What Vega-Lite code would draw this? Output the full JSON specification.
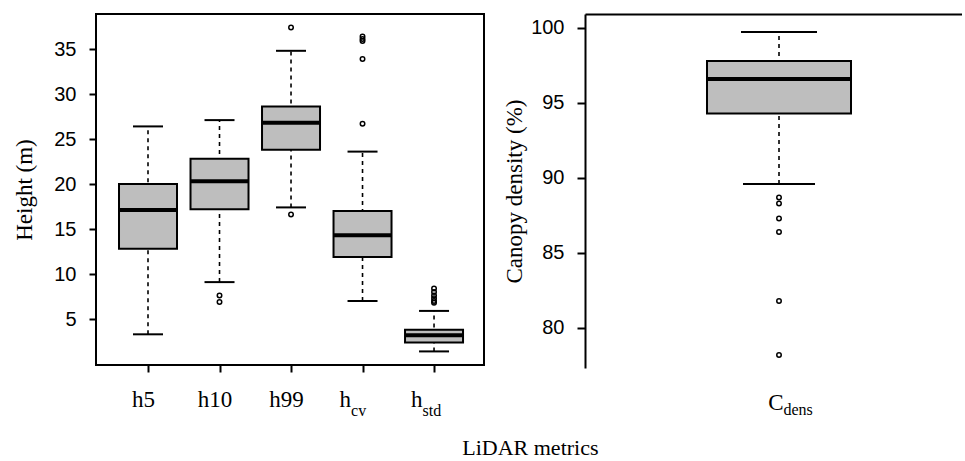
{
  "$schema": "https://vega.github.io/schema/vega-lite/v6.json",
  "padding": {"left": 12, "top": 13, "right": 0, "bottom": 0},
  "background": "white",
  "datasets": {
    "hbox": [
      {"metric": "h5", "lower": 3.3, "q1": 12.8, "median": 17.1, "q3": 20.0, "upper": 26.4},
      {"metric": "h10", "lower": 9.1, "q1": 17.2, "median": 20.3, "q3": 22.8, "upper": 27.1},
      {"metric": "h99", "lower": 17.4, "q1": 23.8, "median": 26.8, "q3": 28.6, "upper": 34.8},
      {"metric": "hcv", "lower": 7.0, "q1": 11.9, "median": 14.3, "q3": 17.0, "upper": 23.6},
      {"metric": "hstd", "lower": 1.4, "q1": 2.4, "median": 3.2, "q3": 3.8, "upper": 5.9}
    ],
    "hout": [
      {"metric": "h10", "value": 7.6},
      {"metric": "h10", "value": 6.9},
      {"metric": "h99", "value": 37.4},
      {"metric": "h99", "value": 16.6},
      {"metric": "hcv", "value": 36.4},
      {"metric": "hcv", "value": 36.1},
      {"metric": "hcv", "value": 35.9},
      {"metric": "hcv", "value": 33.9},
      {"metric": "hcv", "value": 26.7},
      {"metric": "hstd", "value": 8.4},
      {"metric": "hstd", "value": 8.0},
      {"metric": "hstd", "value": 7.6},
      {"metric": "hstd", "value": 7.3},
      {"metric": "hstd", "value": 7.0},
      {"metric": "hstd", "value": 6.8}
    ],
    "cbox": [
      {"metric": "Cdens", "lower": 89.6, "q1": 94.3, "median": 96.6, "q3": 97.8, "upper": 99.73}
    ],
    "cout": [
      {"metric": "Cdens", "value": 88.7},
      {"metric": "Cdens", "value": 88.3},
      {"metric": "Cdens", "value": 87.3},
      {"metric": "Cdens", "value": 86.4},
      {"metric": "Cdens", "value": 81.8},
      {"metric": "Cdens", "value": 78.2}
    ]
  },
  "title": {
    "text": "LiDAR metrics",
    "orient": "bottom",
    "anchor": "middle",
    "font": "Liberation Serif",
    "fontSize": 22,
    "fontWeight": "normal",
    "color": "black",
    "offset": 19,
    "dx": 43
  },
  "spacing": 18,
  "hconcat": [
    {
      "width": 388,
      "height": 351,
      "view": {"stroke": "black", "strokeWidth": 2},
      "data": {"name": "hbox"},
      "resolve": {"axis": {"x": "independent"}},
      "layer": [
        {
          "mark": {"type": "rule", "strokeDash": [4, 4], "strokeWidth": 1.6, "color": "black", "opacity": 1},
          "encoding": {
            "x": {
              "field": "metric", "type": "nominal", "title": null,
              "scale": {"type": "point", "domain": ["h5", "h10", "h99", "hcv", "hstd"], "padding": 0.713, "align": 0.51},
              "axis": {
                "orient": "bottom", "domain": false, "grid": false, "ticks": true, "tickSize": 7, "tickWidth": 2, "tickColor": "black",
                "labelFont": "Liberation Serif", "labelFontSize": 23, "labelColor": "black", "labelAngle": 0, "labelPadding": 16,
                "labelOverlap": false, "labelFlush": false, "labelBaseline": "top",
                "labelExpr": "(datum.value=='hcv'||datum.value=='hstd') ? 'h' : datum.value",
                "labelAlign": {"condition": {"test": "datum.value=='hcv'||datum.value=='hstd'", "value": "right"}, "value": "center"},
                "labelOffset": {"condition": {"test": "datum.value=='hcv'||datum.value=='hstd'", "value": -12}, "value": -5}
              }
            },
            "y": {
              "field": "lower", "type": "quantitative", "title": "Height (m)",
              "scale": {"domain": [-0.11, 38.89], "nice": false, "zero": false},
              "axis": {
                "orient": "left", "values": [5, 10, 15, 20, 25, 30, 35], "domain": false, "grid": false,
                "ticks": true, "tickSize": 7, "tickWidth": 2, "tickColor": "black",
                "labelFont": "Liberation Sans", "labelFontSize": 20, "labelColor": "black", "labelPadding": 13,
                "titleFont": "Liberation Serif", "titleFontSize": 23, "titleFontWeight": "normal", "titleColor": "black", "titlePadding": 17
              }
            },
            "y2": {"field": "upper"}
          }
        },
        {
          "mark": {"type": "tick", "color": "black", "thickness": 2, "size": 30, "opacity": 1},
          "encoding": {
            "x": {"field": "metric", "type": "nominal", "title": null, "scale": {"type": "point", "domain": ["h5", "h10", "h99", "hcv", "hstd"], "padding": 0.713, "align": 0.51}, "axis": null},
            "y": {"field": "lower", "type": "quantitative", "title": "Height (m)"}
          }
        },
        {
          "mark": {"type": "tick", "color": "black", "thickness": 2, "size": 30, "opacity": 1},
          "encoding": {
            "x": {"field": "metric", "type": "nominal", "title": null, "scale": {"type": "point", "domain": ["h5", "h10", "h99", "hcv", "hstd"], "padding": 0.713, "align": 0.51}, "axis": null},
            "y": {"field": "upper", "type": "quantitative", "title": "Height (m)"}
          }
        },
        {
          "mark": {"type": "bar", "fill": "#bebebe", "stroke": "black", "strokeWidth": 2, "size": 58, "opacity": 1},
          "encoding": {
            "x": {"field": "metric", "type": "nominal", "title": null, "scale": {"type": "point", "domain": ["h5", "h10", "h99", "hcv", "hstd"], "padding": 0.713, "align": 0.51}, "axis": null},
            "y": {"field": "q1", "type": "quantitative", "title": "Height (m)"},
            "y2": {"field": "q3"}
          }
        },
        {
          "mark": {"type": "tick", "color": "black", "thickness": 4, "size": 57, "opacity": 1},
          "encoding": {
            "x": {
              "field": "metric", "type": "nominal", "title": null,
              "scale": {"type": "point", "domain": ["h5", "h10", "h99", "hcv", "hstd"], "padding": 0.713, "align": 0.51},
              "axis": {
                "orient": "bottom", "domain": false, "grid": false, "ticks": true, "tickSize": 7, "tickOpacity": 0,
                "labelFont": "Liberation Serif", "labelFontSize": 16, "labelColor": "black", "labelAngle": 0, "labelPadding": 30,
                "labelOverlap": false, "labelFlush": false, "labelBaseline": "top", "labelAlign": "left", "labelOffset": -12,
                "labelExpr": "datum.value=='hcv' ? 'cv' : (datum.value=='hstd' ? 'std' : '')"
              }
            },
            "y": {"field": "median", "type": "quantitative", "title": "Height (m)"}
          }
        },
        {
          "data": {"name": "hout"},
          "mark": {"type": "point", "shape": "circle", "filled": false, "color": "black", "size": 20, "strokeWidth": 1.5, "opacity": 1},
          "encoding": {
            "x": {"field": "metric", "type": "nominal", "title": null, "scale": {"type": "point", "domain": ["h5", "h10", "h99", "hcv", "hstd"], "padding": 0.713, "align": 0.51}, "axis": null},
            "y": {"field": "value", "type": "quantitative", "title": "Height (m)"}
          }
        }
      ]
    },
    {
      "width": 377,
      "height": 354,
      "view": {"stroke": null},
      "data": {"name": "cbox"},
      "resolve": {"axis": {"x": "independent"}},
      "layer": [
        {
          "mark": {"type": "rule", "strokeDash": [4, 4], "strokeWidth": 1.6, "color": "black", "opacity": 1},
          "encoding": {
            "x": {
              "field": "metric", "type": "nominal", "title": null,
              "scale": {"type": "point", "domain": ["Cdens"], "padding": 0.5, "align": 0.5146},
              "axis": {
                "orient": "bottom", "domain": false, "grid": false, "ticks": true, "tickSize": 7, "tickOpacity": 0,
                "labelFont": "Liberation Serif", "labelFontSize": 23, "labelColor": "black", "labelAngle": 0, "labelPadding": 16,
                "labelOverlap": false, "labelFlush": false, "labelBaseline": "top", "labelAlign": "right", "labelOffset": 4,
                "labelExpr": "'C'"
              }
            },
            "y": {
              "field": "lower", "type": "quantitative", "title": "Canopy density (%)",
              "scale": {"domain": [77.333, 100.933], "nice": false, "zero": false},
              "axis": {
                "orient": "left", "values": [80, 85, 90, 95, 100], "domain": true, "domainColor": "black", "domainWidth": 2, "grid": false,
                "ticks": true, "tickSize": 8, "tickWidth": 2, "tickColor": "black",
                "labelFont": "Liberation Sans", "labelFontSize": 20, "labelColor": "black", "labelPadding": 13,
                "titleFont": "Liberation Serif", "titleFontSize": 23, "titleFontWeight": "normal", "titleColor": "black", "titlePadding": 4
              }
            },
            "y2": {"field": "upper"}
          }
        },
        {
          "mark": {"type": "tick", "color": "black", "thickness": 2, "size": 72, "opacity": 1},
          "encoding": {
            "x": {"field": "metric", "type": "nominal", "title": null, "scale": {"type": "point", "domain": ["Cdens"], "padding": 0.5, "align": 0.5146}, "axis": null},
            "y": {"field": "lower", "type": "quantitative", "title": "Canopy density (%)"}
          }
        },
        {
          "mark": {"type": "tick", "color": "black", "thickness": 2, "size": 76, "opacity": 1},
          "encoding": {
            "x": {"field": "metric", "type": "nominal", "title": null, "scale": {"type": "point", "domain": ["Cdens"], "padding": 0.5, "align": 0.5146}, "axis": null},
            "y": {"field": "upper", "type": "quantitative", "title": "Canopy density (%)"}
          }
        },
        {
          "mark": {"type": "bar", "fill": "#bebebe", "stroke": "black", "strokeWidth": 2, "size": 144, "opacity": 1},
          "encoding": {
            "x": {"field": "metric", "type": "nominal", "title": null, "scale": {"type": "point", "domain": ["Cdens"], "padding": 0.5, "align": 0.5146}, "axis": null},
            "y": {"field": "q1", "type": "quantitative", "title": "Canopy density (%)"},
            "y2": {"field": "q3"}
          }
        },
        {
          "mark": {"type": "tick", "color": "black", "thickness": 4, "size": 143, "opacity": 1},
          "encoding": {
            "x": {
              "field": "metric", "type": "nominal", "title": null,
              "scale": {"type": "point", "domain": ["Cdens"], "padding": 0.5, "align": 0.5146},
              "axis": {
                "orient": "bottom", "domain": false, "grid": false, "ticks": true, "tickSize": 7, "tickOpacity": 0,
                "labelFont": "Liberation Serif", "labelFontSize": 16, "labelColor": "black", "labelAngle": 0, "labelPadding": 26,
                "labelOverlap": false, "labelFlush": false, "labelBaseline": "top", "labelAlign": "left", "labelOffset": 4,
                "labelExpr": "'dens'"
              }
            },
            "y": {"field": "median", "type": "quantitative", "title": "Canopy density (%)"}
          }
        },
        {
          "data": {"name": "cout"},
          "mark": {"type": "point", "shape": "circle", "filled": false, "color": "black", "size": 20, "strokeWidth": 1.5, "opacity": 1},
          "encoding": {
            "x": {
              "field": "metric", "type": "nominal", "title": null,
              "scale": {"type": "point", "domain": ["Cdens"], "padding": 0.5, "align": 0.5146},
              "axis": {"orient": "top", "domain": true, "domainColor": "black", "domainWidth": 2, "ticks": false, "labels": false, "grid": false}
            },
            "y": {"field": "value", "type": "quantitative", "title": "Canopy density (%)"}
          }
        }
      ]
    }
  ]
}
